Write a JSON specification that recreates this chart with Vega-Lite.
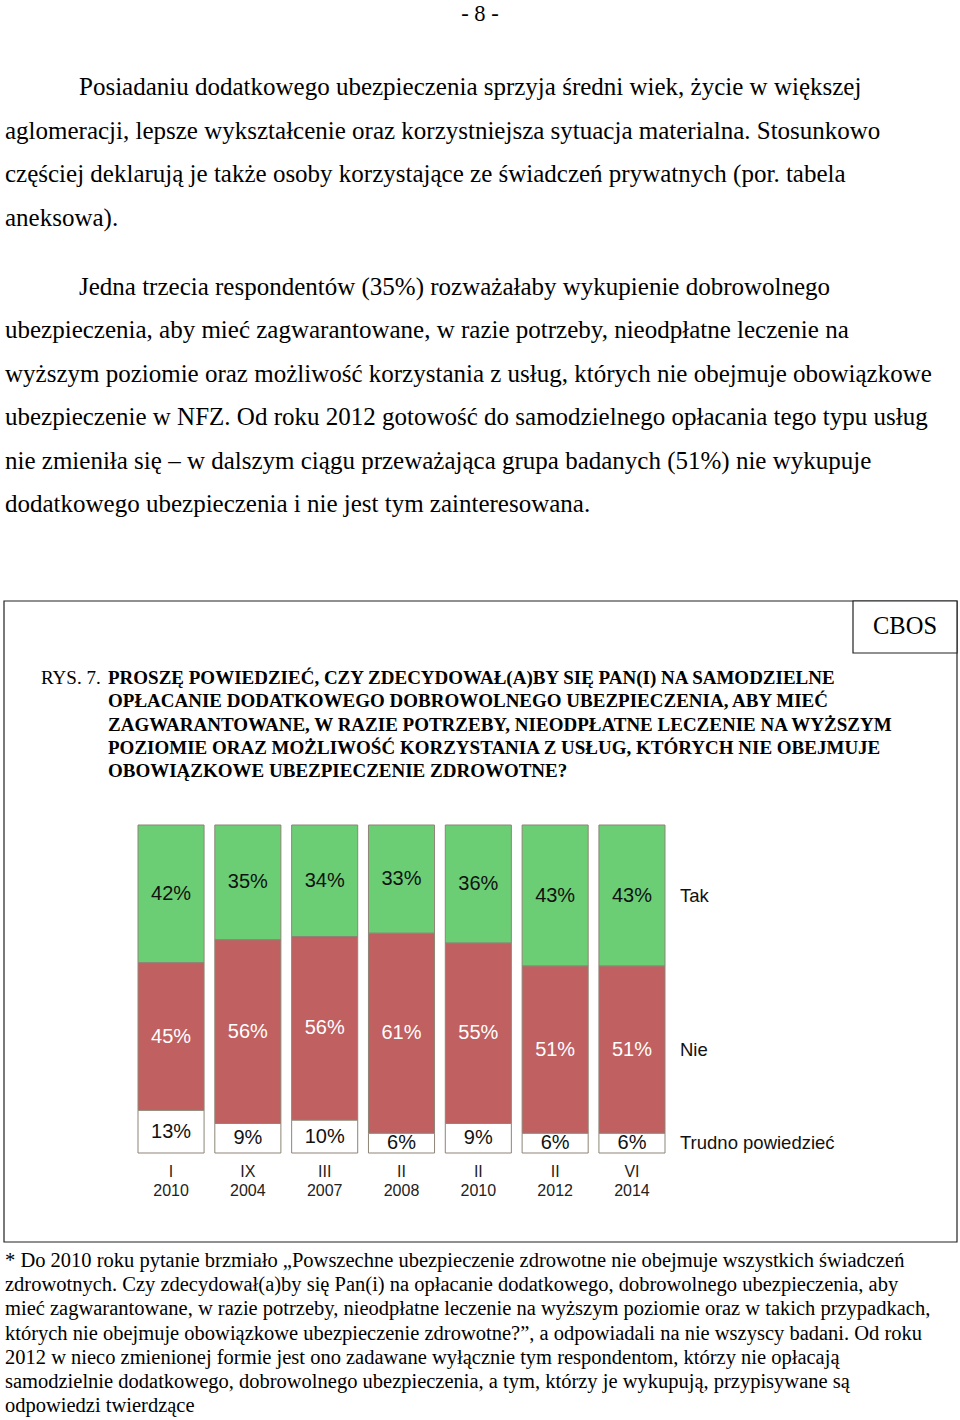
{
  "$schema": "https://vega.github.io/schema/vega-lite/v6.json",
  "width": 960,
  "height": 1420,
  "autosize": {"type": "fit", "contains": "padding"},
  "padding": 0,
  "background": "white",
  "config": {"view": {"stroke": null}, "font": "Liberation Serif", "text": {"color": "#000000"}},
  "datasets": {
    "bars": [
      {"period": "I 2010", "month": "I", "year": "2010", "answer": "Tak", "pct": 42},
      {"period": "I 2010", "month": "I", "year": "2010", "answer": "Nie", "pct": 45},
      {"period": "I 2010", "month": "I", "year": "2010", "answer": "Trudno powiedzieć", "pct": 13},
      {"period": "IX 2004", "month": "IX", "year": "2004", "answer": "Tak", "pct": 35},
      {"period": "IX 2004", "month": "IX", "year": "2004", "answer": "Nie", "pct": 56},
      {"period": "IX 2004", "month": "IX", "year": "2004", "answer": "Trudno powiedzieć", "pct": 9},
      {"period": "III 2007", "month": "III", "year": "2007", "answer": "Tak", "pct": 34},
      {"period": "III 2007", "month": "III", "year": "2007", "answer": "Nie", "pct": 56},
      {"period": "III 2007", "month": "III", "year": "2007", "answer": "Trudno powiedzieć", "pct": 10},
      {"period": "II 2008", "month": "II", "year": "2008", "answer": "Tak", "pct": 33},
      {"period": "II 2008", "month": "II", "year": "2008", "answer": "Nie", "pct": 61},
      {"period": "II 2008", "month": "II", "year": "2008", "answer": "Trudno powiedzieć", "pct": 6},
      {"period": "II 2010", "month": "II", "year": "2010", "answer": "Tak", "pct": 36},
      {"period": "II 2010", "month": "II", "year": "2010", "answer": "Nie", "pct": 55},
      {"period": "II 2010", "month": "II", "year": "2010", "answer": "Trudno powiedzieć", "pct": 9},
      {"period": "II 2012", "month": "II", "year": "2012", "answer": "Tak", "pct": 43},
      {"period": "II 2012", "month": "II", "year": "2012", "answer": "Nie", "pct": 51},
      {"period": "II 2012", "month": "II", "year": "2012", "answer": "Trudno powiedzieć", "pct": 6},
      {"period": "VI 2014", "month": "VI", "year": "2014", "answer": "Tak", "pct": 43},
      {"period": "VI 2014", "month": "VI", "year": "2014", "answer": "Nie", "pct": 51},
      {"period": "VI 2014", "month": "VI", "year": "2014", "answer": "Trudno powiedzieć", "pct": 6}
    ],
    "body": [
      {"block": "p1", "line": 1, "start": "indent", "text": "Posiadaniu dodatkowego ubezpieczenia sprzyja średni wiek, życie w większej"},
      {"block": "p1", "line": 2, "start": "margin", "text": "aglomeracji, lepsze wykształcenie oraz korzystniejsza sytuacja materialna. Stosunkowo"},
      {"block": "p1", "line": 3, "start": "margin", "text": "częściej deklarują je także osoby korzystające ze świadczeń prywatnych (por. tabela"},
      {"block": "p1", "line": 4, "start": "margin", "text": "aneksowa)."},
      {"block": "p2", "line": 1, "start": "indent", "text": "Jedna trzecia respondentów (35%) rozważałaby wykupienie dobrowolnego"},
      {"block": "p2", "line": 2, "start": "margin", "text": "ubezpieczenia, aby mieć zagwarantowane, w razie potrzeby, nieodpłatne leczenie na"},
      {"block": "p2", "line": 3, "start": "margin", "text": "wyższym poziomie oraz możliwość korzystania z usług, których nie obejmuje obowiązkowe"},
      {"block": "p2", "line": 4, "start": "margin", "text": "ubezpieczenie w NFZ. Od roku 2012 gotowość do samodzielnego opłacania tego typu usług"},
      {"block": "p2", "line": 5, "start": "margin", "text": "nie zmieniła się – w dalszym ciągu przeważająca grupa badanych (51%) nie wykupuje"},
      {"block": "p2", "line": 6, "start": "margin", "text": "dodatkowego ubezpieczenia i nie jest tym zainteresowana."}
    ],
    "question": [
      {"block": "q", "line": 1, "text": "PROSZĘ POWIEDZIEĆ, CZY ZDECYDOWAŁ(A)BY SIĘ PAN(I) NA SAMODZIELNE"},
      {"block": "q", "line": 2, "text": "OPŁACANIE DODATKOWEGO DOBROWOLNEGO UBEZPIECZENIA, ABY MIEĆ"},
      {"block": "q", "line": 3, "text": "ZAGWARANTOWANE, W RAZIE POTRZEBY, NIEODPŁATNE LECZENIE NA WYŻSZYM"},
      {"block": "q", "line": 4, "text": "POZIOMIE ORAZ MOŻLIWOŚĆ KORZYSTANIA Z USŁUG, KTÓRYCH NIE OBEJMUJE"},
      {"block": "q", "line": 5, "text": "OBOWIĄZKOWE UBEZPIECZENIE ZDROWOTNE?"}
    ],
    "note": [
      {"block": "n", "line": 1, "text": "* Do 2010 roku pytanie brzmiało „Powszechne ubezpieczenie zdrowotne nie obejmuje wszystkich świadczeń"},
      {"block": "n", "line": 2, "text": "zdrowotnych. Czy zdecydował(a)by się Pan(i) na opłacanie dodatkowego, dobrowolnego ubezpieczenia, aby"},
      {"block": "n", "line": 3, "text": "mieć zagwarantowane, w razie potrzeby, nieodpłatne leczenie na wyższym poziomie oraz w takich przypadkach,"},
      {"block": "n", "line": 4, "text": "których nie obejmuje obowiązkowe ubezpieczenie zdrowotne?”, a odpowiadali na nie wszyscy badani. Od roku"},
      {"block": "n", "line": 5, "text": "2012 w nieco zmienionej formie jest ono zadawane wyłącznie tym respondentom, którzy nie opłacają"},
      {"block": "n", "line": 6, "text": "samodzielnie dodatkowego, dobrowolnego ubezpieczenia, a tym, którzy je wykupują, przypisywane są"},
      {"block": "n", "line": 7, "text": "odpowiedzi twierdzące"}
    ]
  },
  "layer": [
    {
      "data": {"values": [{"box": "frame"}]},
      "mark": {"type": "rect", "fill": "white", "stroke": "#222222", "strokeWidth": 1.2},
      "encoding": {
        "x": {"field": "box", "type": "nominal", "scale": {"type": "band", "domain": ["frame"], "range": [4, 957], "paddingInner": 0, "paddingOuter": 0}, "axis": null},
        "y": {"field": "box", "type": "nominal", "scale": {"type": "band", "domain": ["frame"], "range": [601, 1242], "paddingInner": 0, "paddingOuter": 0}, "axis": null}
      }
    },
    {
      "data": {"values": [{"box": "CBOS"}]},
      "encoding": {
        "x": {"field": "box", "type": "nominal", "scale": {"type": "band", "domain": ["CBOS"], "range": [853, 957], "paddingInner": 0, "paddingOuter": 0}, "axis": null},
        "y": {"field": "box", "type": "nominal", "scale": {"type": "band", "domain": ["CBOS"], "range": [601, 653], "paddingInner": 0, "paddingOuter": 0}, "axis": null}
      },
      "layer": [
        {"mark": {"type": "rect", "fill": "white", "stroke": "#222222", "strokeWidth": 1.2}},
        {"mark": {"type": "text", "fontSize": 24.5, "align": "center", "baseline": "middle", "font": "Liberation Serif"}, "encoding": {"text": {"field": "box"}}}
      ]
    },
    {
      "data": {"values": [{"text": "- 8 -"}]},
      "mark": {"type": "text", "fontSize": 22.5, "align": "center", "baseline": "middle", "font": "Liberation Serif"},
      "encoding": {
        "x": {"field": "text", "type": "nominal", "scale": {"type": "band", "domain": ["- 8 -"], "range": [0, 960], "paddingInner": 0, "paddingOuter": 0}, "axis": null},
        "y": {"field": "text", "type": "nominal", "scale": {"type": "band", "domain": ["- 8 -"], "range": [2, 26], "paddingInner": 0, "paddingOuter": 0}, "axis": null},
        "text": {"field": "text"}
      }
    },
    {
      "data": {"name": "body"},
      "transform": [{"filter": "datum.block === 'p1'"}],
      "mark": {"type": "text", "fontSize": 25, "align": "left", "baseline": "middle", "font": "Liberation Serif"},
      "encoding": {
        "x": {"field": "start", "type": "nominal", "scale": {"type": "point", "domain": ["indent", "margin"], "range": [79, 5], "padding": 0}, "axis": null},
        "y": {"field": "line", "type": "quantitative", "scale": {"domain": [1, 4], "range": [87, 218], "zero": false, "nice": false}, "axis": null},
        "text": {"field": "text"}
      }
    },
    {
      "data": {"name": "body"},
      "transform": [{"filter": "datum.block === 'p2'"}],
      "mark": {"type": "text", "fontSize": 25, "align": "left", "baseline": "middle", "font": "Liberation Serif"},
      "encoding": {
        "x": {"field": "start", "type": "nominal", "scale": {"type": "point", "domain": ["indent", "margin"], "range": [79, 5], "padding": 0}, "axis": null},
        "y": {"field": "line", "type": "quantitative", "scale": {"domain": [1, 6], "range": [287, 504], "zero": false, "nice": false}, "axis": null},
        "text": {"field": "text"}
      }
    },
    {
      "data": {"values": [{"block": "label", "line": 1, "text": "RYS. 7."}]},
      "mark": {"type": "text", "fontSize": 19, "align": "left", "baseline": "middle", "font": "Liberation Serif"},
      "encoding": {
        "x": {"field": "block", "type": "nominal", "scale": {"type": "point", "domain": ["label"], "range": [41, 41], "padding": 0}, "axis": null},
        "y": {"field": "line", "type": "quantitative", "scale": {"domain": [1, 5], "range": [678, 771], "zero": false, "nice": false}, "axis": null},
        "text": {"field": "text"}
      }
    },
    {
      "data": {"name": "question"},
      "mark": {"type": "text", "fontSize": 19, "fontWeight": "bold", "align": "left", "baseline": "middle", "font": "Liberation Serif"},
      "encoding": {
        "x": {"field": "block", "type": "nominal", "scale": {"type": "point", "domain": ["q"], "range": [108, 108], "padding": 0}, "axis": null},
        "y": {"field": "line", "type": "quantitative", "scale": {"domain": [1, 5], "range": [678, 771], "zero": false, "nice": false}, "axis": null},
        "text": {"field": "text"}
      }
    },
    {
      "data": {"name": "note"},
      "mark": {"type": "text", "fontSize": 20.5, "align": "left", "baseline": "middle", "font": "Liberation Serif"},
      "encoding": {
        "x": {"field": "block", "type": "nominal", "scale": {"type": "point", "domain": ["n"], "range": [5, 5], "padding": 0}, "axis": null},
        "y": {"field": "line", "type": "quantitative", "scale": {"domain": [1, 7], "range": [1261, 1406], "zero": false, "nice": false}, "axis": null},
        "text": {"field": "text"}
      }
    },
    {
      "data": {"name": "bars"},
      "transform": [
        {"calculate": "indexof(['Trudno powiedzieć', 'Nie', 'Tak'], datum.answer)", "as": "ord"},
        {"stack": "pct", "groupby": ["period"], "sort": [{"field": "ord", "order": "ascending"}], "as": ["y0", "y1"]},
        {"calculate": "(datum.y0 + datum.y1) / 2", "as": "ymid"},
        {"calculate": "datum.pct + '%'", "as": "label"},
        {"calculate": "[datum.month, datum.year]", "as": "cat"}
      ],
      "encoding": {
        "x": {"field": "period", "type": "nominal", "scale": {"type": "band", "domain": ["I 2010", "IX 2004", "III 2007", "II 2008", "II 2010", "II 2012", "VI 2014"], "range": [138, 665], "paddingInner": 0.14, "paddingOuter": 0}, "axis": null}
      },
      "layer": [
        {
          "mark": {"type": "rect", "stroke": "#8d8576", "strokeWidth": 1},
          "encoding": {
            "y": {"field": "y0", "type": "quantitative", "scale": {"domain": [0, 100], "range": [1153, 825], "zero": false, "nice": false}, "axis": null},
            "y2": {"field": "y1"},
            "color": {"field": "answer", "type": "nominal", "scale": {"domain": ["Tak", "Nie", "Trudno powiedzieć"], "range": ["#6BCE75", "#C06060", "#FFFFFF"]}, "legend": null}
          }
        },
        {
          "mark": {"type": "text", "font": "Liberation Sans", "fontSize": 20, "align": "center", "baseline": "middle"},
          "encoding": {
            "y": {"field": "ymid", "type": "quantitative", "scale": {"domain": [0, 100], "range": [1153, 825], "zero": false, "nice": false}, "axis": null},
            "text": {"field": "label"},
            "color": {"field": "answer", "type": "nominal", "scale": {"domain": ["Tak", "Nie", "Trudno powiedzieć"], "range": ["#111111", "#FFFFFF", "#111111"]}, "legend": null}
          }
        },
        {
          "transform": [{"filter": "datum.answer === 'Tak'"}],
          "mark": {"type": "text", "font": "Liberation Sans", "fontSize": 16, "align": "center", "baseline": "top", "dy": 11, "lineHeight": 19, "color": "#222222"},
          "encoding": {
            "y": {"datum": 0, "type": "quantitative"},
            "text": {"field": "cat"}
          }
        },
        {
          "transform": [{"filter": "datum.period === 'VI 2014'"}],
          "mark": {"type": "text", "font": "Liberation Sans", "fontSize": 18.5, "align": "left", "baseline": "middle", "dx": 15, "color": "#111111"},
          "encoding": {
            "x": {"field": "period", "type": "nominal", "bandPosition": 1},
            "y": {"field": "ymid", "type": "quantitative"},
            "text": {"field": "answer"}
          }
        }
      ],
      "resolve": {"scale": {"color": "independent"}}
    }
  ],
  "resolve": {"scale": {"x": "independent", "y": "independent"}}
}
